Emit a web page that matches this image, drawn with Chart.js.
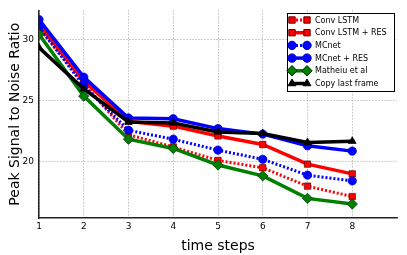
<!DOCTYPE html>
<html>
<head>
<meta charset="utf-8">
<script src="https://cdn.jsdelivr.net/npm/chart.js@4/dist/chart.umd.min.js"></script>
<style>
  html, body { margin: 0; padding: 0; background: #fff; }
  #wrap { width: 407px; height: 255px; }
</style>
</head>
<body>
<div id="wrap"><canvas id="psnr"></canvas></div>
<script>
// valori (PSNR pe pas de timp)
let steps = [1, 2, 3, 4, 5, 6, 7, 8];
let convLstm = [30.9, 26.4, 22.2, 21.2, 20.1, 19.5, 18.0, 17.15];
let convLstmRes = [31.2, 26.6, 23.3, 22.9, 22.1, 21.4, 19.8, 19.0];
let mcnet = [31.0, 26.2, 22.56, 21.83, 20.94, 20.19, 18.9, 18.43];
let mcnetRes = [31.6, 26.9, 23.56, 23.5, 22.7, 22.25, 21.29, 20.86];
let mathieu = [30.4, 25.35, 21.83, 21.08, 19.73, 18.84, 17.0, 16.54];
let copyLast = [29.32, 25.94, 23.24, 23.16, 22.43, 22.3, 21.57, 21.67];
let yTicks = [20, 25, 30];

const font = "'DejaVu Sans', sans-serif";

function pts(arr) {
  return arr.map((v, i) => ({ x: steps[i], y: v }));
}

function serie(label, arr, color, edge, style, radius, dashed) {
  return {
    label: label,
    data: pts(arr),
    borderColor: color,
    backgroundColor: color,
    borderWidth: dashed ? 3 : 3.5,
    borderDash: dashed ? [2, 2] : [],
    pointStyle: style,
    pointRadius: radius,
    pointBackgroundColor: color,
    pointBorderColor: edge,
    pointBorderWidth: 0.7,
    tension: 0,
    fill: false,
  };
}

let datasets = [
  serie("Conv LSTM", convLstm, "#ff0000", "#600000", "rect", 4.5, true),
  serie("Conv LSTM + RES", convLstmRes, "#ff0000", "#600000", "rect", 4.5, false),
  serie("MCnet", mcnet, "#0000ff", "#0000c0", "circle", 4.2, true),
  serie("MCnet + RES", mcnetRes, "#0000ff", "#0000c0", "circle", 4.2, false),
  serie("Matheiu et al", mathieu, "#007f00", "#003000", "rectRot", 5.2, false),
  serie("Copy last frame", copyLast, "#000000", "#000000", "triangle", 4.5, false),
];
// ultimul desenat deasupra (ca in matplotlib)
datasets.forEach((d, i) => { d.order = datasets.length - i; });

// legenda desenata manual in stil matplotlib
const legendBox = {
  id: "legendBox",
  afterDraw(chart) {
    const ctx = chart.ctx;
    const x0 = 287, y0 = 13, w = 107, h = 78;
    ctx.save();
    ctx.fillStyle = "#fff";
    ctx.fillRect(x0, y0, w, h);
    ctx.strokeStyle = "#000";
    ctx.lineWidth = 1;
    ctx.strokeRect(x0 + 0.5, y0 + 0.5, w, h);
    chart.data.datasets.forEach((d, i) => {
      const y = 20 + i * 12.7;
      const xa = 292, xb = 307;
      ctx.save();
      ctx.strokeStyle = d.borderColor;
      ctx.lineWidth = d.borderWidth;
      ctx.setLineDash(d.borderDash);
      ctx.beginPath();
      ctx.moveTo(xa, y);
      ctx.lineTo(xb, y);
      ctx.stroke();
      ctx.restore();
      [xa, xb].forEach(px => {
        ctx.save();
        ctx.fillStyle = d.pointBackgroundColor;
        ctx.strokeStyle = d.pointBorderColor;
        Chart.helpers.drawPoint(ctx, {
          pointStyle: d.pointStyle,
          radius: d.pointRadius,
          borderWidth: d.pointBorderWidth,
          rotation: 0,
        }, px, y);
        ctx.restore();
      });
      ctx.fillStyle = "#000";
      ctx.font = "8px " + font;
      ctx.textBaseline = "middle";
      ctx.fillText(d.label, 315, y + 0.5);
    });
    ctx.restore();
  },
};

new Chart(document.getElementById("psnr"), {
  type: "line",
  data: { datasets: datasets },
  options: {
    responsive: true,
    maintainAspectRatio: false,
    animation: false,
    layout: { padding: { top: 9, right: 10, left: 0, bottom: 0 } },
    plugins: {
      legend: { display: false },
      tooltip: { enabled: false },
    },
    scales: {
      x: {
        type: "linear",
        min: 1,
        max: 9,
        afterBuildTicks: s => { s.ticks = steps.map(v => ({ value: v })); },
        afterFit: s => { s.height = 37; },
        grid: { color: "#888888", lineWidth: 0.8, drawTicks: false },
        border: { display: true, color: "#222", width: 1.5, dash: [1, 2] },
        ticks: { color: "#000", font: { family: font, size: 9 }, padding: 3, maxRotation: 0 },
        title: { display: true, text: "time steps", color: "#000", font: { family: font, size: 14 }, padding: { top: 0, bottom: 0 } },
      },
      y: {
        min: 15.4,
        max: 32.35,
        afterBuildTicks: s => { s.ticks = yTicks.map(v => ({ value: v })); },
        afterFit: s => { s.width = 39; },
        grid: { color: "#888888", lineWidth: 0.8, drawTicks: false },
        border: { display: true, color: "#222", width: 1.5, dash: [1, 2] },
        ticks: { color: "#000", font: { family: font, size: 9 }, padding: 5 },
        title: { display: true, text: "Peak Signal to Noise Ratio", color: "#000", font: { family: font, size: 14 }, padding: { top: 7, bottom: 0 } },
      },
    },
  },
  plugins: [legendBox],
});
</script>
</body>
</html>
